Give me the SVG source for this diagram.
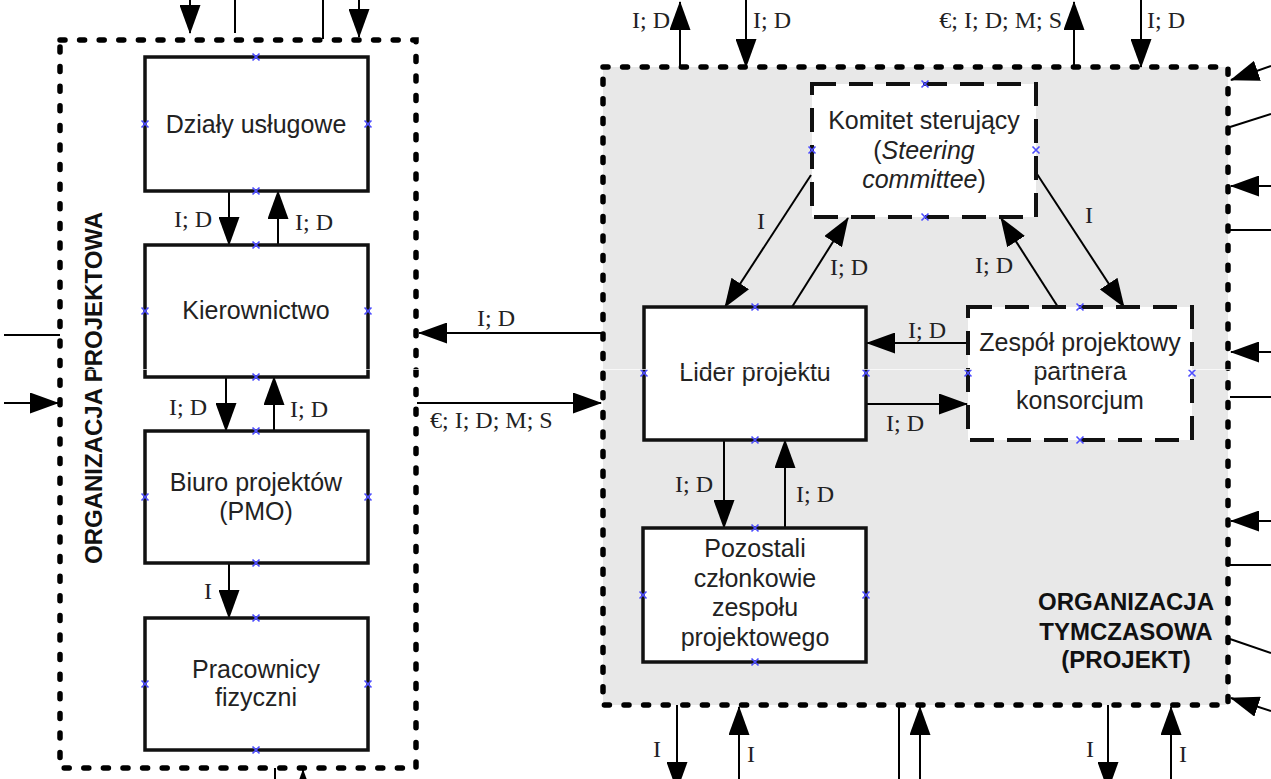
<svg xmlns="http://www.w3.org/2000/svg" width="1271" height="779" viewBox="0 0 1271 779">
  <defs>
    <style>
      .box { fill: #fff; stroke: #111; stroke-width: 3.5; }
      .dbox { fill: #fff; stroke: #111; stroke-width: 4; stroke-dasharray: 24 13; }
      .dots { fill: none; stroke: #000; stroke-width: 5.5; stroke-dasharray: 5 14.6; stroke-linecap: round; }
      .gray { fill: #e8e8e8; }
      .ln { stroke: #000; stroke-width: 2; fill: none; }
      .arr { stroke: #000; stroke-width: 2; fill: none; marker-end: url(#ah); }
      .t { font-family: "Liberation Sans", Arial, sans-serif; font-size: 25px; fill: #222; text-anchor: middle; }
      .tb { font-family: "Liberation Sans", Arial, sans-serif; font-size: 24px; font-weight: bold; fill: #111; text-anchor: middle; }
      .lb { font-family: "Liberation Serif", "Times New Roman", serif; font-size: 24px; fill: #222; }
      .pt { stroke: #4d4dff; stroke-width: 1.6; fill: none; }
    </style>
    <marker id="ah" markerUnits="userSpaceOnUse" viewBox="0 0 29 21" markerWidth="29" markerHeight="21" refX="28" refY="10.5" orient="auto">
      <path d="M0,0 L29,10.5 L0,21 Z" fill="#000"/>
    </marker>
    <path id="cp" class="pt" d="M-3.5,-3.5 L3.5,3.5 M-3.5,3.5 L3.5,-3.5"/>
  </defs>

  <!-- containers -->
  <g id="org-projektowa">
    <rect class="dots" x="60" y="40" width="356" height="728"/>
    <text class="tb" transform="translate(102,388) rotate(-90)">ORGANIZACJA PROJEKTOWA</text>
  </g>
  <g id="org-tymczasowa">
    <rect class="gray" x="603" y="67" width="625" height="638"/>
    <rect class="dots" x="603" y="67" width="625" height="638"/>
    <text class="tb" x="1126" y="610">ORGANIZACJA</text>
    <text class="tb" x="1126" y="640">TYMCZASOWA</text>
    <text class="tb" x="1126" y="668">(PROJEKT)</text>
  </g>

  <!-- connectors -->
  <g id="connectors">
    <!-- inside the permanent organisation -->
    <line class="arr" x1="229" y1="191" x2="229" y2="245"/>
    <line class="arr" x1="278" y1="245" x2="278" y2="191"/>
    <line class="arr" x1="226" y1="377" x2="226" y2="431"/>
    <line class="arr" x1="274" y1="431" x2="274" y2="377"/>
    <line class="arr" x1="229" y1="563" x2="229" y2="618"/>
    <text class="lb" x="212" y="227" text-anchor="end">I; D</text>
    <text class="lb" x="295" y="230">I; D</text>
    <text class="lb" x="207" y="415" text-anchor="end">I; D</text>
    <text class="lb" x="290" y="417">I; D</text>
    <text class="lb" x="212" y="599" text-anchor="end">I</text>

    <!-- outside of the permanent organisation -->
    <line class="arr" x1="190" y1="0" x2="190" y2="33"/>
    <line class="ln" x1="235" y1="0" x2="235" y2="33"/>
    <line class="ln" x1="323" y1="0" x2="323" y2="39"/>
    <line class="arr" x1="359" y1="0" x2="359" y2="37"/>
    <line class="ln" x1="4" y1="335" x2="60" y2="335"/>
    <line class="arr" x1="4" y1="403" x2="58" y2="403"/>
    <line class="ln" x1="275" y1="768" x2="275" y2="779"/>
    <line class="arr" x1="303" y1="800" x2="303" y2="770"/>

    <!-- between the organisations -->
    <line class="arr" x1="603" y1="333" x2="419" y2="333"/>
    <line class="arr" x1="417" y1="403" x2="601" y2="403"/>
    <text class="lb" x="496" y="326" text-anchor="middle">I; D</text>
    <text class="lb" x="430" y="428">€; I; D; M; S</text>

    <!-- inside the project -->
    <line class="arr" x1="811" y1="175" x2="725" y2="307"/>
    <line class="arr" x1="792" y1="307" x2="848" y2="218"/>
    <line class="arr" x1="1058" y1="307" x2="1001" y2="218"/>
    <line class="arr" x1="1037" y1="174" x2="1124" y2="307"/>
    <line class="arr" x1="968" y1="343" x2="867" y2="343"/>
    <line class="arr" x1="866" y1="404" x2="967" y2="404"/>
    <line class="arr" x1="724" y1="440" x2="724" y2="528"/>
    <line class="arr" x1="785" y1="528" x2="785" y2="440"/>
    <text class="lb" x="761" y="229" text-anchor="middle">I</text>
    <text class="lb" x="830" y="275">I; D</text>
    <text class="lb" x="975" y="273">I; D</text>
    <text class="lb" x="1089" y="223" text-anchor="middle">I</text>
    <text class="lb" x="908" y="338">I; D</text>
    <text class="lb" x="886" y="431">I; D</text>
    <text class="lb" x="713" y="492" text-anchor="end">I; D</text>
    <text class="lb" x="796" y="502">I; D</text>

    <!-- project boundary: top -->
    <line class="arr" x1="680" y1="67" x2="680" y2="2"/>
    <line class="arr" x1="746" y1="0" x2="746" y2="67"/>
    <line class="arr" x1="1074" y1="67" x2="1074" y2="2"/>
    <line class="arr" x1="1141" y1="0" x2="1141" y2="67"/>
    <text class="lb" x="670" y="28" text-anchor="end">I; D</text>
    <text class="lb" x="753" y="28">I; D</text>
    <text class="lb" x="1062" y="28" text-anchor="end">€; I; D; M; S</text>
    <text class="lb" x="1147" y="28">I; D</text>

    <!-- project boundary: right -->
    <line class="arr" x1="1271" y1="66" x2="1231" y2="80"/>
    <line class="ln" x1="1230" y1="127" x2="1271" y2="114"/>
    <line class="arr" x1="1271" y1="186" x2="1231" y2="186"/>
    <line class="ln" x1="1230" y1="230" x2="1271" y2="230"/>
    <line class="arr" x1="1271" y1="352" x2="1231" y2="352"/>
    <line class="ln" x1="1230" y1="397" x2="1271" y2="397"/>
    <line class="arr" x1="1271" y1="521" x2="1231" y2="521"/>
    <line class="ln" x1="1230" y1="565" x2="1271" y2="565"/>
    <line class="ln" x1="1230" y1="639" x2="1271" y2="653"/>
    <line class="arr" x1="1271" y1="711" x2="1231" y2="698"/>

    <!-- project boundary: bottom -->
    <line class="arr" x1="677" y1="705" x2="677" y2="790"/>
    <line class="arr" x1="739" y1="779" x2="739" y2="707"/>
    <line class="ln" x1="899" y1="705" x2="899" y2="779"/>
    <line class="arr" x1="920" y1="779" x2="920" y2="707"/>
    <line class="arr" x1="1108" y1="705" x2="1108" y2="790"/>
    <line class="arr" x1="1171" y1="779" x2="1171" y2="707"/>
    <text class="lb" x="657" y="757" text-anchor="middle">I</text>
    <text class="lb" x="751" y="762" text-anchor="middle">I</text>
    <text class="lb" x="1090" y="757" text-anchor="middle">I</text>
    <text class="lb" x="1183" y="762" text-anchor="middle">I</text>
  </g>

  <!-- nodes of the permanent organisation -->
  <g id="dzialy-uslugowe">
    <rect class="box" x="145" y="57" width="223" height="134"/>
    <text class="t" x="256" y="133">Działy usługowe</text>
    <use href="#cp" x="256" y="57"/><use href="#cp" x="256" y="191"/><use href="#cp" x="145" y="124"/><use href="#cp" x="368" y="124"/>
  </g>
  <g id="kierownictwo">
    <rect class="box" x="145" y="245" width="223" height="132"/>
    <text class="t" x="256" y="319">Kierownictwo</text>
    <use href="#cp" x="256" y="245"/><use href="#cp" x="256" y="377"/><use href="#cp" x="145" y="311"/><use href="#cp" x="368" y="311"/>
  </g>
  <g id="biuro-projektow">
    <rect class="box" x="145" y="431" width="223" height="132"/>
    <text class="t" x="256" y="491">Biuro projektów</text>
    <text class="t" x="256" y="520">(PMO)</text>
    <use href="#cp" x="256" y="431"/><use href="#cp" x="256" y="563"/><use href="#cp" x="145" y="497"/><use href="#cp" x="368" y="497"/>
  </g>
  <g id="pracownicy-fizyczni">
    <rect class="box" x="145" y="618" width="223" height="132"/>
    <text class="t" x="256" y="678">Pracownicy</text>
    <text class="t" x="256" y="706">fizyczni</text>
    <use href="#cp" x="256" y="618"/><use href="#cp" x="256" y="750"/><use href="#cp" x="145" y="684"/><use href="#cp" x="368" y="684"/>
  </g>

  <!-- nodes of the project -->
  <g id="komitet-sterujacy">
    <rect class="dbox" x="812" y="84" width="224" height="133"/>
    <text class="t" x="924" y="129">Komitet sterujący</text>
    <text class="t" x="924" y="159">(<tspan font-style="italic">Steering</tspan></text>
    <text class="t" x="924" y="188"><tspan font-style="italic">committee</tspan>)</text>
    <use href="#cp" x="925" y="84"/><use href="#cp" x="925" y="217"/><use href="#cp" x="812" y="150"/><use href="#cp" x="1036" y="150"/>
  </g>
  <g id="lider-projektu">
    <rect class="box" x="644" y="307" width="222" height="133"/>
    <text class="t" x="755" y="381">Lider projektu</text>
    <use href="#cp" x="755" y="307"/><use href="#cp" x="755" y="440"/><use href="#cp" x="644" y="373"/><use href="#cp" x="866" y="373"/>
  </g>
  <g id="zespol-partnera">
    <rect class="dbox" x="968" y="307" width="224" height="133"/>
    <text class="t" x="1080" y="351">Zespół projektowy</text>
    <text class="t" x="1080" y="380">partnera</text>
    <text class="t" x="1080" y="409">konsorcjum</text>
    <use href="#cp" x="1080" y="307"/><use href="#cp" x="1080" y="440"/><use href="#cp" x="968" y="373"/><use href="#cp" x="1192" y="373"/>
  </g>
  <g id="pozostali-czlonkowie">
    <rect class="box" x="643" y="528" width="223" height="134"/>
    <text class="t" x="755" y="557">Pozostali</text>
    <text class="t" x="755" y="587">członkowie</text>
    <text class="t" x="755" y="616">zespołu</text>
    <text class="t" x="755" y="646">projektowego</text>
    <use href="#cp" x="755" y="528"/><use href="#cp" x="755" y="662"/><use href="#cp" x="643" y="595"/><use href="#cp" x="866" y="595"/>
  </g>

  <!-- thin light seam across the sheet -->
  <line x1="0" y1="369.5" x2="1271" y2="369.5" stroke="#fff" stroke-opacity="0.7" stroke-width="1"/>
</svg>
